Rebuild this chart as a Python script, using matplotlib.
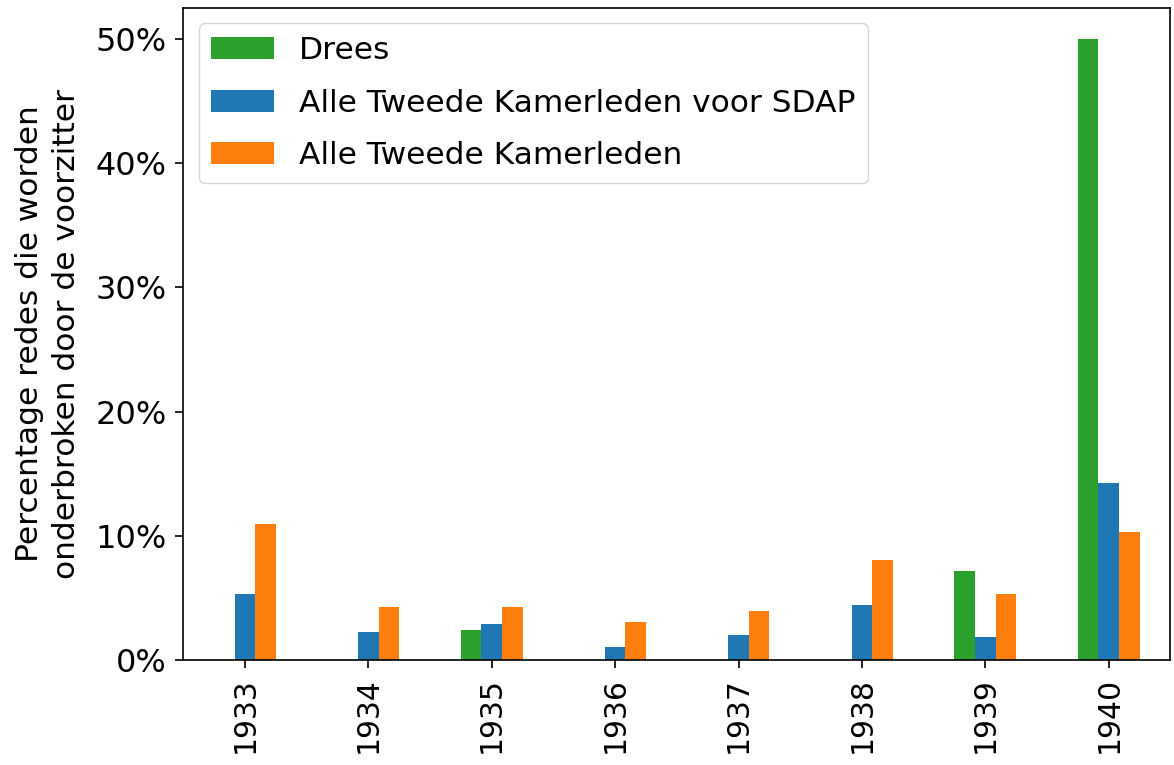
import matplotlib
matplotlib.use("Agg")
import matplotlib.pyplot as plt
import numpy as np
from matplotlib.ticker import PercentFormatter

years = ["1933", "1934", "1935", "1936", "1937", "1938", "1939", "1940"]
drees = [0, 0, 2.44, 0, 0, 0, 7.14, 50.0]
sdap = [5.32, 2.28, 2.88, 1.05, 1.99, 4.41, 1.83, 14.29]
alle = [10.94, 4.25, 4.25, 3.04, 3.95, 8.04, 5.32, 10.32]

series = [
    ("Drees", drees, "#2ca02c"),
    ("Alle Tweede Kamerleden voor SDAP", sdap, "#1f77b4"),
    ("Alle Tweede Kamerleden", alle, "#ff7f0e"),
]

fig = plt.figure(figsize=(11.74, 7.65), dpi=100)
ax = fig.add_axes([0.156, 0.137, 0.841, 0.853])

x = np.arange(len(years))
w = 0.5 / 3
for i, (name, vals, col) in enumerate(series):
    ax.bar(x + (i - 1) * w, vals, width=w, color=col, label=name)

ax.set_xlim(-0.5, len(years) - 0.5)
ax.set_ylim(0, 52.5)
ax.set_xticks(x)
ax.set_xticklabels(years, rotation=90)
ax.set_yticks([0, 10, 20, 30, 40, 50])
ax.yaxis.set_major_formatter(PercentFormatter(decimals=0))
ax.tick_params(length=6, width=1.2, pad=6)
ax.tick_params(axis="x", labelsize=21.5)
ax.tick_params(axis="y", labelsize=23)
for sp in ax.spines.values():
    sp.set_linewidth(1.2)
ax.set_ylabel("Percentage redes die worden\nonderbroken door de voorzitter",
              fontsize=22.5, linespacing=1.35, labelpad=10)
ax.legend(loc="upper left", fontsize=22.5, labelspacing=0.76, borderpad=0.4,
          handletextpad=0.8)

fig.savefig("out.png", dpi=100)
